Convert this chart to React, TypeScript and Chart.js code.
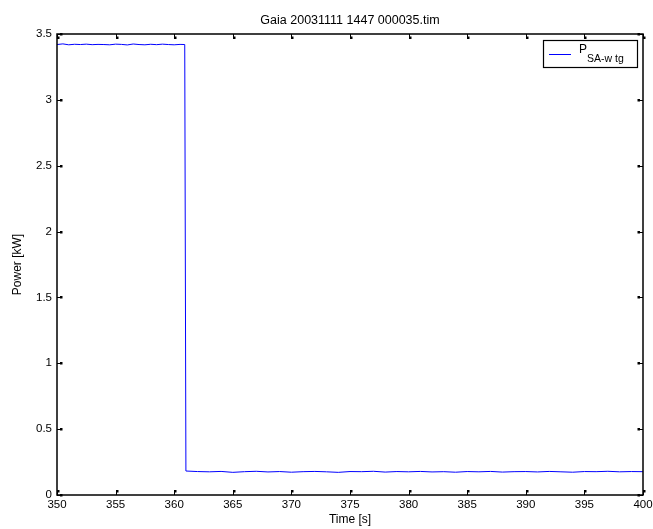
import React, { useEffect, useRef } from "react";
import { Chart, registerables } from "chart.js";

Chart.register(...registerables);

const titleText = "Gaia 20031111 1447 000035.tim";
const xTitle = "Time [s]";
const yTitle = "Power [kW]";
const xTicks = [350, 355, 360, 365, 370, 375, 380, 385, 390, 395, 400];
const yTicks = [0, 0.5, 1, 1.5, 2, 2.5, 3, 3.5];
const yTickLabels = ["0", "0.5", "1", "1.5", "2", "2.5", "3", "3.5"];

const timeHigh = [
  350, 350.5, 351, 351.5, 352, 352.5, 353, 353.5, 354, 354.5, 355, 355.5,
  356, 356.5, 357, 357.5, 358, 358.5, 359, 359.5, 360, 360.5, 360.9,
];
const powerHigh = [
  3.42, 3.425, 3.418, 3.422, 3.42, 3.423, 3.419, 3.421, 3.42, 3.418, 3.423, 3.421,
  3.417, 3.424, 3.42, 3.418, 3.422, 3.419, 3.423, 3.42, 3.418, 3.421, 3.42,
];
const timeLow = [
  361, 362, 363, 364, 365, 366, 367, 368, 369, 370, 371, 372, 373, 374, 375,
  376, 377, 378, 379, 380, 381, 382, 383, 384, 385, 386, 387, 388, 389, 390,
  391, 392, 393, 394, 395, 396, 397, 398, 399, 400,
];
const powerLow = [
  0.182, 0.178, 0.176, 0.179, 0.172, 0.177, 0.18, 0.175, 0.178, 0.173, 0.177, 0.179,
  0.176, 0.172, 0.178, 0.177, 0.18, 0.174, 0.178, 0.176, 0.179, 0.175, 0.177, 0.173,
  0.178, 0.176, 0.179, 0.174, 0.177, 0.178, 0.175, 0.179, 0.176, 0.173, 0.178, 0.177,
  0.18, 0.176, 0.178, 0.177,
];
const seriesLabel = "P";
const seriesSub = "SA-w tg";

const FONT = "'Liberation Sans', Arial, Helvetica, sans-serif";

const framePlugin = {
  id: "matlabFrame",
  afterDraw(chart: any) {
    const ctx = chart.ctx;
    const { left, right, top, bottom } = chart.chartArea;
    const xs = chart.scales.x;
    const ys = chart.scales.y;
    ctx.save();
    ctx.strokeStyle = "#000";
    ctx.fillStyle = "#000";
    ctx.lineWidth = 1;
    const tl = 4;
    xTicks.forEach((v) => {
      const px = Math.round(xs.getPixelForValue(v)) + 0.5;
      ctx.beginPath();
      ctx.moveTo(px, bottom);
      ctx.lineTo(px, bottom - tl);
      ctx.moveTo(px, top);
      ctx.lineTo(px, top + tl);
      ctx.stroke();
      ctx.fillRect(px - 0.5, bottom - tl - 1, 2.5, 2.5);
      ctx.fillRect(px - 0.5, top + tl - 1.5, 2.5, 2.5);
    });
    yTicks.forEach((v) => {
      const py = Math.round(ys.getPixelForValue(v)) + 0.5;
      ctx.beginPath();
      ctx.moveTo(left, py);
      ctx.lineTo(left + tl, py);
      ctx.moveTo(right, py);
      ctx.lineTo(right - tl, py);
      ctx.stroke();
      ctx.fillRect(left + tl - 1, py - 1.5, 2.5, 2.5);
      ctx.fillRect(right - tl - 1.5, py - 1.5, 2.5, 2.5);
    });
    ctx.lineWidth = 1.5;
    ctx.strokeRect(left, top, right - left, bottom - top);

    // legend
    const bx = 543, by = 40, bw = 94, bh = 27;
    ctx.fillStyle = "#fff";
    ctx.fillRect(bx, by, bw, bh);
    ctx.lineWidth = 1.2;
    ctx.strokeStyle = "#000";
    ctx.strokeRect(bx + 0.5, by + 0.5, bw, bh);
    ctx.strokeStyle = "#0000ff";
    ctx.lineWidth = 1;
    ctx.beginPath();
    ctx.moveTo(549, 54.5);
    ctx.lineTo(571, 54.5);
    ctx.stroke();
    ctx.fillStyle = "#000";
    ctx.textBaseline = "alphabetic";
    ctx.textAlign = "left";
    ctx.font = `12px ${FONT}`;
    ctx.fillText(seriesLabel, 579, 53);
    ctx.font = `10.5px ${FONT}`;
    ctx.fillText(seriesSub, 587, 62);
    ctx.restore();
  },
};

export default function App() {
  const ref = useRef<HTMLCanvasElement>(null);
  useEffect(() => {
    if (!ref.current) return;
    const data = [
      ...timeHigh.map((t, i) => ({ x: t, y: powerHigh[i] })),
      ...timeLow.map((t, i) => ({ x: t, y: powerLow[i] })),
    ];
    const chart = new Chart(ref.current, {
      type: "line",
      data: {
        datasets: [
          {
            label: seriesLabel + seriesSub,
            data,
            borderColor: "#0000ff",
            borderWidth: 1,
            pointRadius: 0,
            tension: 0,
            fill: false,
          },
        ],
      },
      options: {
        animation: false,
        responsive: false,
        devicePixelRatio: 1,
        layout: { padding: { left: 0, right: 10, top: 0, bottom: 0 } },
        plugins: {
          legend: { display: false },
          tooltip: { enabled: false },
          title: {
            display: true,
            text: titleText,
            fullSize: false,
            color: "#000",
            font: { family: FONT, size: 12.5, weight: "normal" },
            padding: { top: 13.5, bottom: 5.5 },
          },
        },
        scales: {
          x: {
            type: "linear",
            min: 350,
            max: 400,
            grid: { display: false, drawTicks: false },
            border: { display: false },
            afterBuildTicks: (s: any) => {
              s.ticks = xTicks.map((v) => ({ value: v }));
            },
            afterFit: (s: any) => {
              s.height = 34;
              s.paddingLeft = 0;
              s.paddingRight = 0;
            },
            ticks: {
              color: "#000",
              padding: 3,
              maxRotation: 0,
              autoSkip: false,
              font: { family: FONT, size: 11.5 },
              callback: (v: any) => String(v),
            },
            title: {
              display: true,
              text: xTitle,
              color: "#000",
              font: { family: FONT, size: 12 },
              padding: { top: 0, bottom: 2 },
            },
          },
          y: {
            type: "linear",
            min: 0,
            max: 3.5,
            grid: { display: false, drawTicks: false },
            border: { display: false },
            afterBuildTicks: (s: any) => {
              s.ticks = yTicks.map((v) => ({ value: v }));
            },
            afterFit: (s: any) => {
              s.width = 57;
              s.paddingTop = 0;
              s.paddingBottom = 0;
            },
            ticks: {
              color: "#000",
              padding: 5,
              autoSkip: false,
              font: { family: FONT, size: 11.5 },
              callback: (v: any) => {
                const i = yTicks.indexOf(Number(v));
                return i >= 0 ? yTickLabels[i] : "";
              },
            },
            title: {
              display: true,
              text: yTitle,
              color: "#000",
              font: { family: FONT, size: 12 },
              padding: { top: 10, bottom: 0 },
            },
          },
        },
      },
      plugins: [framePlugin],
    } as any);
    return () => chart.destroy();
  }, []);
  return (
    <div style={{ position: "absolute", left: 0, top: 0, width: 653, height: 529, background: "#fff" }}>
      <canvas ref={ref} width={653} height={529} style={{ display: "block" }} />
    </div>
  );
}
